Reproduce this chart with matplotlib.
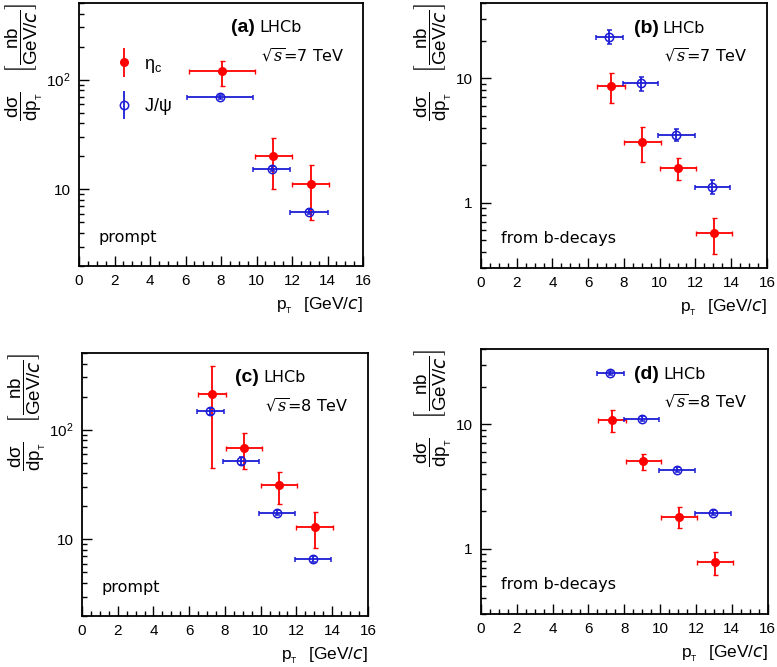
import math
import matplotlib
matplotlib.use('Agg')
import matplotlib.pyplot as plt
from matplotlib.ticker import MultipleLocator, LogLocator, FuncFormatter, NullFormatter
from matplotlib.container import ErrorbarContainer
from matplotlib.legend_handler import HandlerErrorbar

plt.rcParams['font.family'] = ['Liberation Sans', 'DejaVu Sans']
plt.rcParams['mathtext.fontset'] = 'dejavusans'
plt.rcParams['mathtext.default'] = 'regular'

RED = '#ff0000'
BLUE = '#1c1cd6'

# ---- (a) prompt, 7 TeV ----
a_eta_x = [8.05, 10.95, 13.05]
a_eta_xerr = [1.85, 1.05, 1.05]
a_eta_y = [119, 20.1, 11.3]
a_eta_lo = [32, 10.0, 6.0]
a_eta_hi = [28, 9.5, 5.4]
a_jpsi_x = [7.95, 10.85, 12.95]
a_jpsi_xerr = [1.85, 1.05, 1.05]
a_jpsi_y = [69.5, 15.4, 6.25]
a_jpsi_err = [3.0, 0.8, 0.35]

# ---- (b) from b-decays, 7 TeV ----
b_eta_x = [7.28, 9.03, 11.03, 13.03]
b_eta_xerr = [0.78, 1.02, 1.02, 1.02]
b_eta_y = [8.69, 3.10, 1.91, 0.574]
b_eta_lo = [2.35, 0.99, 0.40, 0.182]
b_eta_hi = [2.27, 0.94, 0.39, 0.177]
b_jpsi_x = [7.17, 8.93, 10.94, 12.95]
b_jpsi_xerr = [0.75, 1.0, 1.02, 1.0]
b_jpsi_y = [21.3, 9.18, 3.48, 1.35]
b_jpsi_lo = [2.6, 1.3, 0.35, 0.18]
b_jpsi_hi = [2.9, 1.07, 0.41, 0.17]

# ---- (c) prompt, 8 TeV ----
c_eta_x = [7.28, 9.05, 11.03, 13.02]
c_eta_xerr = [0.76, 1.01, 1.01, 1.02]
c_eta_y = [211, 68.1, 31.2, 13.0]
c_eta_lo = [166, 24.5, 10.1, 4.6]
c_eta_hi = [171, 24.5, 10.0, 4.7]
c_jpsi_x = [7.17, 8.91, 10.93, 12.93]
c_jpsi_xerr = [0.76, 1.0, 1.0, 1.0]
c_jpsi_y = [147, 51.9, 17.5, 6.58]
c_jpsi_err = [12, 4.0, 1.0, 0.4]

# ---- (d) from b-decays, 8 TeV ----
d_eta_x = [7.32, 9.07, 11.06, 13.07]
d_eta_xerr = [0.77, 1.0, 1.0, 1.02]
d_eta_y = [10.77, 5.02, 1.81, 0.78]
d_eta_lo = [2.14, 0.77, 0.34, 0.162]
d_eta_hi = [2.1, 0.72, 0.34, 0.16]
d_jpsi_x = [7.22, 8.96, 10.96, 12.97]
d_jpsi_xerr = [0.75, 1.0, 1.0, 1.0]
d_jpsi_y = [25.6, 11.03, 4.31, 1.95]
d_jpsi_err = [1.0, 0.5, 0.2, 0.08]

YLABEL = r'$\dfrac{d\sigma}{dp_{_T}}\ \ \ \left[\dfrac{nb}{GeV/\mathit{c}}\right]$'
XLABEL = r'$p_{_T}\ \ [GeV/\mathit{c}]$'


def log_label(v, pos):
    if v >= 100:
        return r'$10^{%d}$' % round(math.log10(v))
    return '%g' % v


def panel(ax, tag, energy, origin, ylim, eta, jpsi):
    '''一个子图'''
    ex, exerr, ey, elo, ehi = eta
    jx, jxerr, jy, jlo, jhi = jpsi
    ax.errorbar(ex, ey, xerr=exerr, yerr=[elo, ehi], fmt='o', color=RED,
                ms=5.5, elinewidth=1.3, capsize=1.8, capthick=1.0, zorder=3)
    ax.errorbar(jx, jy, xerr=jxerr, yerr=[jlo, jhi], fmt='o', color=BLUE,
                mfc='none', mec=BLUE, mew=1.1, ms=6, elinewidth=1.3,
                capsize=1.8, capthick=1.0, zorder=4)
    ax.set_yscale('log')
    ax.set_xlim(0, 16)
    ax.set_ylim(*ylim)
    ax.xaxis.set_major_locator(MultipleLocator(2))
    ax.xaxis.set_minor_locator(MultipleLocator(0.5))
    ax.yaxis.set_major_locator(LogLocator(base=10))
    ax.yaxis.set_minor_locator(LogLocator(base=10, subs=range(2, 10)))
    ax.yaxis.set_major_formatter(FuncFormatter(log_label))
    ax.yaxis.set_minor_formatter(NullFormatter())
    ax.tick_params(which='both', direction='in', top=False, right=False,
                   labelsize=11, pad=6)
    ax.tick_params(which='major', length=7, width=1.0)
    ax.tick_params(which='minor', length=3.5, width=1.0)
    for s in ax.spines.values():
        s.set_linewidth(1.3)
    ax.set_ylabel(YLABEL, loc='top', fontsize=13.5, labelpad=1)
    ax.set_xlabel(XLABEL, loc='right', fontsize=12.5, labelpad=5)
    ax.text(0.535, 0.905, '(%s)' % tag, transform=ax.transAxes, fontsize=14,
            fontweight='bold', va='center', ha='left')
    ax.text(0.635, 0.905, 'LHCb', transform=ax.transAxes, fontsize=11.5,
            family='DejaVu Sans', va='center', ha='left')
    ax.text(0.64, 0.80, r'$\sqrt{\mathit{s}}$=%s TeV' % energy,
            transform=ax.transAxes, fontsize=11.5, family='DejaVu Sans',
            math_fontfamily='dejavuserif', va='center', ha='left')
    ax.text(0.07, 0.11, origin, transform=ax.transAxes, fontsize=11.5,
            family='DejaVu Sans', va='center', ha='left')


fig = plt.figure(figsize=(7.77, 6.67), dpi=100)
ax_a = fig.add_axes([0.1017, 0.6012, 0.3655, 0.3943])
ax_b = fig.add_axes([0.619, 0.5982, 0.368, 0.3973])
ax_c = fig.add_axes([0.1055, 0.0765, 0.368, 0.3943])
ax_d = fig.add_axes([0.619, 0.0795, 0.369, 0.3973])

panel(ax_a, 'a', '7', 'prompt', (2, 500),
      (a_eta_x, a_eta_xerr, a_eta_y, a_eta_lo, a_eta_hi),
      (a_jpsi_x, a_jpsi_xerr, a_jpsi_y, a_jpsi_err, a_jpsi_err))
panel(ax_b, 'b', '7', 'from b-decays', (0.3, 40),
      (b_eta_x, b_eta_xerr, b_eta_y, b_eta_lo, b_eta_hi),
      (b_jpsi_x, b_jpsi_xerr, b_jpsi_y, b_jpsi_lo, b_jpsi_hi))
panel(ax_c, 'c', '8', 'prompt', (2, 500),
      (c_eta_x, c_eta_xerr, c_eta_y, c_eta_lo, c_eta_hi),
      (c_jpsi_x, c_jpsi_xerr, c_jpsi_y, c_jpsi_err, c_jpsi_err))
panel(ax_d, 'd', '8', 'from b-decays', (0.3, 40),
      (d_eta_x, d_eta_xerr, d_eta_y, d_eta_lo, d_eta_hi),
      (d_jpsi_x, d_jpsi_xerr, d_jpsi_y, d_jpsi_err, d_jpsi_err))

# 图例 (只在 a 里)
h_eta = ax_a.errorbar([], [], yerr=[], fmt='o', color=RED, ms=5.5, elinewidth=1.3)
h_jpsi = ax_a.errorbar([], [], yerr=[], fmt='o', color=BLUE, mfc='none',
                       mec=BLUE, mew=1.1, ms=6, elinewidth=1.3)
ax_a.legend([h_eta, h_jpsi], [r'$\eta_{c}$', r'J/$\psi$'], loc='upper left',
            bbox_to_anchor=(0.115, 0.80), frameon=False, fontsize=13,
            handlelength=1.4, handletextpad=0.4, labelspacing=1.2,
            borderpad=0, borderaxespad=0,
            handler_map={ErrorbarContainer: HandlerErrorbar(yerr_size=0.8)})

fig.savefig('out.png', dpi=100)
